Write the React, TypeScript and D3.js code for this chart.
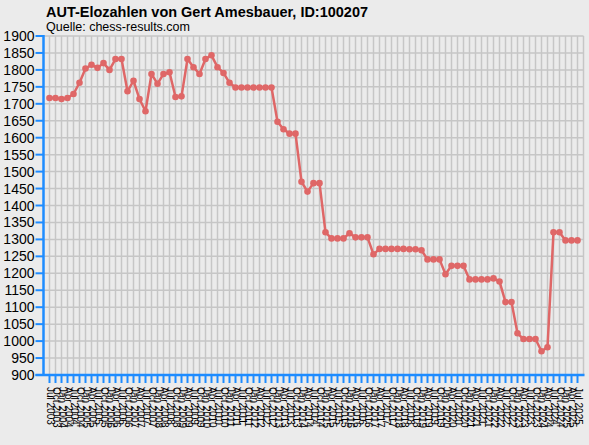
import React, { useRef, useEffect } from 'react';
import * as d3 from 'd3';

const title = 'AUT-Elozahlen von Gert Amesbauer, ID:100207';
const subtitle = 'Quelle: chess-results.com';

const months = ['Jan', 'Apr', 'Jul', 'Oct'];
// rating lists, quarterly from Jul 2003 to Jul 2025
const periods: string[] = [];
for (let i = 0; i < 89; i++) {
  const q = (2 + i) % 4;
  const year = 2003 + Math.floor((2 + i) / 4);
  periods.push(`${months[q]} ${year}`);
}

const ratings = [
  1717, 1717, 1714, 1717, 1729, 1762, 1804, 1815, 1806, 1820,
  1800, 1832, 1832, 1737, 1768, 1714, 1678, 1788, 1759, 1788,
  1793, 1720, 1722, 1832, 1808, 1788, 1832, 1843, 1808, 1791,
  1762, 1748, 1748, 1748, 1748, 1748, 1748, 1748, 1647, 1625,
  1612, 1612, 1470, 1441, 1466, 1466, 1321, 1303, 1303, 1303,
  1318, 1306, 1306, 1306, 1256, 1272, 1272, 1272, 1272, 1272,
  1271, 1271, 1268, 1241, 1241, 1241, 1197, 1222, 1222, 1222,
  1182, 1182, 1182, 1182, 1185, 1176, 1115, 1115, 1023, 1006,
  1006, 1006, 970, 982, 1321, 1321, 1297, 1297, 1297
];

const yTicks = d3.range(900, 1901, 50);

const W = 589;
const H = 445;
const margin = { top: 36, right: 5.5, bottom: 70, left: 43.5 };
const font = 'Liberation Sans, Arial, sans-serif';

export default () => {
  const svgRef = useRef<SVGSVGElement>(null);

  useEffect(() => {
    if (!svgRef.current) return;
    const svg = d3.select(svgRef.current);
    svg.selectAll('*').remove();

    const x = d3
      .scalePoint<string>()
      .domain(periods)
      .range([margin.left, W - margin.right])
      .padding(1);
    const y = d3
      .scaleLinear()
      .domain([900, 1900])
      .range([H - margin.bottom, margin.top]);

    svg
      .append('rect')
      .attr('width', W)
      .attr('height', H)
      .style('fill', '#ebebeb');

    // grid
    const grid = svg.append('g');
    yTicks.forEach((t) => {
      grid
        .append('line')
        .attr('x1', margin.left)
        .attr('x2', W - margin.right)
        .attr('y1', y(t))
        .attr('y2', y(t))
        .style('stroke', '#c6c6c6')
        .style('stroke-width', 1.5);
    });
    periods.forEach((p) => {
      grid
        .append('line')
        .attr('x1', x(p)!)
        .attr('x2', x(p)!)
        .attr('y1', y(1900))
        .attr('y2', y(900))
        .style('stroke', '#c6c6c6')
        .style('stroke-width', 1.5);
    });
    grid
      .append('line')
      .attr('x1', W - margin.right)
      .attr('x2', W - margin.right)
      .attr('y1', y(1900))
      .attr('y2', y(900))
      .style('stroke', '#c6c6c6')
      .style('stroke-width', 1.5);

    // axes
    const axisColor = '#1e8cff';
    const ax = svg.append('g');
    ax.append('line')
      .attr('x1', margin.left)
      .attr('x2', margin.left)
      .attr('y1', y(1900) - 1)
      .attr('y2', y(900))
      .style('stroke', axisColor)
      .style('stroke-width', 2.5);
    ax.append('line')
      .attr('x1', margin.left - 8)
      .attr('x2', W - margin.right + 1)
      .attr('y1', y(900))
      .attr('y2', y(900))
      .style('stroke', axisColor)
      .style('stroke-width', 2.5);
    yTicks.forEach((t) => {
      ax.append('line')
        .attr('x1', margin.left - 8)
        .attr('x2', margin.left)
        .attr('y1', y(t))
        .attr('y2', y(t))
        .style('stroke', axisColor)
        .style('stroke-width', 2);
      ax.append('text')
        .attr('x', margin.left - 9)
        .attr('y', y(t) + 5)
        .attr('text-anchor', 'end')
        .style('font-family', font)
        .style('font-size', '14px')
        .style('fill', '#000')
        .text(t);
    });
    periods.forEach((p) => {
      ax.append('line')
        .attr('x1', x(p)!)
        .attr('x2', x(p)!)
        .attr('y1', y(900))
        .attr('y2', y(900) + 8)
        .style('stroke', axisColor)
        .style('stroke-width', 2);
      ax.append('text')
        .attr('transform', `translate(${x(p)! - 3},${y(900) + 12}) rotate(90)`)
        .style('font-family', font)
        .style('font-size', '10px')
        .style('fill', '#000')
        .text(p);
    });

    // series
    const line = d3
      .line<number>()
      .x((_, i) => x(periods[i])!)
      .y((d) => y(d));
    svg
      .append('path')
      .datum(ratings)
      .attr('d', line)
      .style('fill', 'none')
      .style('stroke', '#df6767')
      .style('stroke-width', 2.5)
      .style('stroke-linejoin', 'round');
    svg
      .append('g')
      .selectAll('circle')
      .data(ratings)
      .join('circle')
      .attr('cx', (_, i) => x(periods[i])!)
      .attr('cy', (d) => y(d))
      .attr('r', 3.3)
      .style('fill', '#df6767');

    svg
      .append('text')
      .attr('x', 46)
      .attr('y', 17)
      .attr('textLength', 322)
      .attr('lengthAdjust', 'spacingAndGlyphs')
      .style('font-family', font)
      .style('font-size', '15.5px')
      .style('font-weight', 'bold')
      .style('fill', '#000')
      .text(title);
    svg
      .append('text')
      .attr('x', 46)
      .attr('y', 31)
      .attr('textLength', 144)
      .attr('lengthAdjust', 'spacingAndGlyphs')
      .style('font-family', font)
      .style('font-size', '12.5px')
      .style('fill', '#000')
      .text(subtitle);
  }, []);

  return (
    <div style={{ position: 'absolute', left: 0, top: 0, width: W, height: H }}>
      <svg width={W} height={H} ref={svgRef} style={{ display: 'block' }} />
    </div>
  );
};
